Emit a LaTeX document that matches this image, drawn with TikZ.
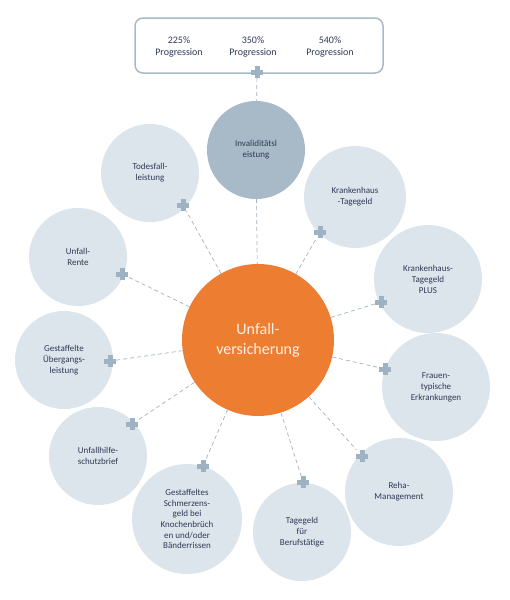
\documentclass[tikz,border=0pt]{standalone}
\usepackage{fontspec}
\setmainfont{Carlito}
\definecolor{lightc}{HTML}{DCE4EC}
\definecolor{invc}{HTML}{A8B9C7}
\definecolor{orangec}{HTML}{ED7D31}
\definecolor{plusc}{HTML}{9DB2C2}
\definecolor{linec}{HTML}{A3B2BF}
\definecolor{boxc}{HTML}{A9B9C6}
\definecolor{txtc}{HTML}{2F3A55}
\definecolor{creamc}{HTML}{FFF1E2}
\newcommand\pluscross[1]{%
  \fill[plusc] ([xshift=-6pt,yshift=-2.5pt]#1.center) rectangle ([xshift=6pt,yshift=2.5pt]#1.center);
  \fill[plusc] ([xshift=-2.5pt,yshift=-6pt]#1.center) rectangle ([xshift=2.5pt,yshift=6pt]#1.center);}
\tikzset{
  small/.style={circle, fill=lightc, draw=none, inner sep=0pt, align=center, text=txtc,
    font=\fontsize{9}{11}\selectfont},
  plusnode/.style={rectangle, minimum size=12pt, inner sep=0pt},
  conn/.style={draw=linec, line width=0.7pt, dash pattern=on 4pt off 3pt},
  boxtext/.style={align=center, text=txtc, font=\fontsize{10}{12}\selectfont}
}
\begin{document}
\begin{tikzpicture}[x=1pt,y=-1pt]
\useasboundingbox (0,0) rectangle (510,600);
% top box
\node[draw=boxc, line width=1.5pt, rounded corners=8pt, fill=white, minimum width=248pt, minimum height=55pt, inner sep=0pt] (box) at (259,45.5) {};
\node[boxtext] (t1) at (179,47) {225\%\\Progression};
\node[boxtext] (t2) at (253,47) {350\%\\Progression};
\node[boxtext] (t3) at (330,47) {540\%\\Progression};
% circles
\node[circle, fill=orangec, minimum size=152pt, inner sep=0pt, align=center, text=creamc,
  font=\fontsize{16}{20}\selectfont] (uv) at (258,340) {Unfall-\\versicherung};
\node[small, fill=invc, minimum size=98pt] (inv) at (256,150) {Invaliditätsl\\eistung};
\node[small, minimum size=98pt] (tod) at (150,173) {Todesfall-\\leistung};
\node[small, minimum size=98pt] (ren) at (78,257) {Unfall-\\Rente};
\node[small, minimum size=98pt] (ueb) at (64,360) {Gestaffelte\\Übergangs-\\leistung};
\node[small, minimum size=98pt] (hil) at (98,456) {Unfallhilfe-\\schutzbrief};
\node[small, minimum size=110pt, font=\fontsize{9}{10.7}\selectfont] (sch) at (187,519) {Gestaffeltes\\Schmerzens-\\geld bei\\Knochenbrüch\\en und/oder\\Bänderrissen};
\node[small, minimum size=98pt] (tag) at (302,532) {Tagegeld\\für\\Berufstätige};
\node[small, minimum size=108pt] (reh) at (399,492) {Reha-\\Management};
\node[small, minimum size=108pt] (fra) at (436,387) {Frauen-\\typische\\Erkrankungen};
\node[small, minimum size=108pt] (khp) at (428,279) {Krankenhaus-\\Tagegeld\\PLUS};
\node[small, minimum size=102pt] (kht) at (355,197) {Krankenhaus\\-Tagegeld};
% plus nodes
\node[plusnode] (p0) at (257,72) {};
\node[plusnode] (p1) at (183,205) {};
\node[plusnode] (p2) at (122,274) {};
\node[plusnode] (p3) at (110,361) {};
\node[plusnode] (p4) at (132,424) {};
\node[plusnode] (p5) at (203,466) {};
\node[plusnode] (p6) at (303,482) {};
\node[plusnode] (p7) at (362,456) {};
\node[plusnode] (p8) at (385,369) {};
\node[plusnode] (p9) at (381,302) {};
\node[plusnode] (p10) at (320,232) {};
% connectors
\draw[conn] (p0) -- (inv);
\draw[conn] (inv) -- (uv);
\foreach \p in {p1,p2,p3,p4,p5,p6,p7,p8,p9,p10} {\draw[conn] (uv) -- (\p);}
% plus crosses
\foreach \p in {p0,p1,p2,p3,p4,p5,p6,p7,p8,p9,p10} {\pluscross{\p}}
\end{tikzpicture}
\end{document}
